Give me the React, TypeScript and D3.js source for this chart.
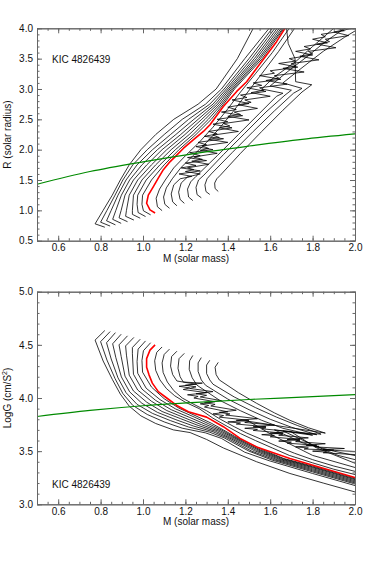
import * as d3 from "d3";
import React, { useRef, useEffect } from "react";

type Pt = [number, number];

const width = 374;
const height = 561;
const plotLeft = 37;
const plotRight = 355;
const frameColor = "#666";
const font = "Liberation Sans, Arial, sans-serif";

// tick labels
const massTicks = [0.6, 0.8, 1.0, 1.2, 1.4, 1.6, 1.8, 2.0];
const radiusTicks = [0.5, 1.0, 1.5, 2.0, 2.5, 3.0, 3.5, 4.0];
const loggTicks = [3.0, 3.5, 4.0, 4.5, 5.0];

// green constraint curve
const greenMass = [0.5, 0.75, 1.0, 1.25, 1.5, 1.75, 2.0];
const greenRadius = [1.43, 1.64, 1.8, 1.94, 2.06, 2.17, 2.26];
const greenLogg = [3.826, 3.883, 3.927, 3.959, 3.986, 4.008, 4.031];

// ---- top panel: mass vs radius ----
const radiusLeftTracks: Pt[][] = [
  [[0.82,0.722],[0.774,0.778],[0.812,1.0],[0.855,1.25],[0.893,1.5],[0.935,1.75],[0.99,2.0],[1.06,2.25],[1.145,2.5],[1.26,2.75],[1.345,3.0],[1.445,3.5],[1.52,4.0],[1.56,4.3]],
  [[0.845,0.741],[0.8,0.805],[0.83,1.0],[0.868,1.25],[0.905,1.5],[0.952,1.75],[1.02,2.0],[1.1,2.25],[1.185,2.5],[1.295,2.75],[1.37,3.0],[1.48,3.5],[1.595,4.0],[1.65,4.3]],
  [[0.87,0.761],[0.828,0.828],[0.85,1.0],[0.882,1.25],[0.92,1.5],[0.972,1.75],[1.045,2.0],[1.13,2.25],[1.215,2.5],[1.315,2.75],[1.383,3.0],[1.5,3.5],[1.61,4.0],[1.67,4.3]],
  [[0.897,0.786],[0.857,0.852],[0.872,1.0],[0.898,1.25],[0.937,1.5],[0.995,1.75],[1.068,2.0],[1.155,2.25],[1.24,2.5],[1.33,2.75],[1.393,3.0],[1.513,3.5],[1.622,4.0],[1.685,4.3]],
  [[0.927,0.813],[0.887,0.877],[0.897,1.0],[0.915,1.25],[0.955,1.5],[1.018,1.75],[1.09,2.0],[1.178,2.25],[1.26,2.5],[1.342,2.75],[1.402,3.0],[1.525,3.5],[1.633,4.0],[1.7,4.3]],
  [[0.957,0.84],[0.918,0.902],[0.922,1.0],[0.935,1.25],[0.975,1.5],[1.04,1.75],[1.112,2.0],[1.198,2.25],[1.277,2.5],[1.353,2.75],[1.41,3.0],[1.535,3.5],[1.643,4.0],[1.71,4.3]],
  [[0.987,0.87],[0.95,0.934],[0.95,1.0],[0.955,1.25],[0.995,1.5],[1.06,1.75],[1.133,2.0],[1.218,2.25],[1.293,2.5],[1.363,2.75],[1.418,3.0],[1.545,3.5],[1.652,4.0],[1.72,4.3]],
  [[1.012,0.898],[0.977,0.964],[0.972,1.1],[0.975,1.25],[1.015,1.5],[1.08,1.75],[1.153,2.0],[1.236,2.25],[1.308,2.5],[1.372,2.75],[1.425,3.0],[1.553,3.5],[1.66,4.0],[1.73,4.3]],
  [[1.036,0.926],[1.002,0.993],[0.995,1.1],[0.998,1.25],[1.04,1.5],[1.1,1.75],[1.17,2.0],[1.25,2.25],[1.322,2.5],[1.38,2.75],[1.432,3.0],[1.562,3.5],[1.665,4.0],[1.74,4.3]],
];

const radiusRedTrack: Pt[] = [
  [1.057,0.957],[1.033,1.007],[1.017,1.117],[1.025,1.25],[1.049,1.39],[1.072,1.53],[1.096,1.67],[1.127,1.8],[1.159,1.91],[1.19,2.02],[1.237,2.16],[1.285,2.3],[1.316,2.41],[1.379,2.71],[1.442,2.96],[1.489,3.12],[1.536,3.34],[1.583,3.56],[1.63,3.78],[1.67,4.0],[1.745,4.3],
];

const radiusRightTracks: Pt[][] = [
  [[1.09,0.995],[1.068,1.06],[1.062,1.2],[1.078,1.35],[1.105,1.5],[1.145,1.7],[1.2,1.9],[1.265,2.12],[1.33,2.37],[1.395,2.65],[1.46,2.95],[1.53,3.25],[1.61,3.6],[1.69,4.0],[1.75,4.3]],
  [[1.125,1.034],[1.103,1.1],[1.097,1.22],[1.11,1.37],[1.138,1.52],[1.178,1.7],[1.235,1.9],[1.3,2.12],[1.365,2.37],[1.43,2.65],[1.49,2.93],[1.56,3.25],[1.64,3.62],[1.715,4.0],[1.78,4.3]],
  [[1.16,1.075],[1.14,1.14],[1.133,1.27],[1.145,1.42],[1.175,1.52],[1.23,1.56],[1.17,1.6],[1.27,1.65],[1.18,1.7],[1.25,1.74],[1.2,1.78],[1.3,1.82],[1.21,1.87],[1.27,1.9],[1.22,1.95],[1.33,2.0],[1.25,2.05],[1.3,2.08],[1.26,2.12],[1.38,2.18],[1.29,2.22],[1.35,2.26],[1.31,2.3],[1.42,2.36],[1.33,2.42],[1.4,2.46],[1.35,2.5],[1.47,2.56],[1.37,2.62],[1.44,2.66],[1.4,2.7],[1.5,2.76],[1.42,2.82],[1.49,2.86],[1.46,2.9],[1.58,2.96],[1.49,3.02],[1.56,3.06],[1.52,3.1],[1.65,3.16],[1.55,3.22],[1.62,3.26],[1.6,3.3],[1.73,3.36],[1.64,3.42],[1.72,3.46],[1.69,3.5],[1.8,3.56],[1.72,3.62],[1.79,3.66],[1.76,3.7],[1.87,3.76],[1.8,3.82],[1.86,3.86],[1.84,3.9],[1.95,3.96],[1.9,4.02],[1.98,4.1]],
  [[1.195,1.116],[1.175,1.18],[1.168,1.3],[1.18,1.45],[1.21,1.55],[1.27,1.6],[1.2,1.64],[1.24,1.67],[1.21,1.7],[1.31,1.76],[1.23,1.81],[1.28,1.84],[1.24,1.88],[1.35,1.94],[1.27,1.99],[1.31,2.02],[1.28,2.06],[1.4,2.12],[1.31,2.17],[1.36,2.2],[1.33,2.24],[1.45,2.3],[1.36,2.36],[1.41,2.39],[1.38,2.43],[1.5,2.49],[1.4,2.55],[1.46,2.58],[1.43,2.62],[1.54,2.68],[1.45,2.74],[1.51,2.78],[1.48,2.82],[1.6,2.88],[1.51,2.94],[1.57,2.98],[1.55,3.02],[1.68,3.08],[1.58,3.14],[1.64,3.18],[1.62,3.22],[1.76,3.28],[1.66,3.34],[1.72,3.38],[1.7,3.42],[1.83,3.48],[1.74,3.54],[1.8,3.58],[1.78,3.62],[1.91,3.68],[1.82,3.74],[1.88,3.78],[1.86,3.82],[1.97,3.88],[1.9,3.94],[2.02,4.02]],
  [[1.235,1.161],[1.215,1.22],[1.21,1.35],[1.225,1.47],[1.25,1.56],[1.35,1.9],[1.45,2.25],[1.55,2.6],[1.63,2.88],[1.66,2.93],[1.56,3.0],[1.62,3.2],[1.72,3.45],[1.8,3.7],[1.9,4.0],[1.95,4.2]],
  [[1.275,1.207],[1.255,1.26],[1.25,1.38],[1.262,1.5],[1.287,1.58],[1.38,1.92],[1.48,2.27],[1.58,2.62],[1.67,2.9],[1.7,2.98],[1.6,3.05],[1.68,3.28],[1.78,3.55],[1.86,3.78],[1.96,4.02]],
  [[1.315,1.262],[1.297,1.31],[1.292,1.42],[1.302,1.52],[1.322,1.6],[1.42,1.95],[1.52,2.3],[1.62,2.64],[1.71,2.93],[1.75,3.01],[1.66,3.1],[1.75,3.35],[1.85,3.62],[1.95,3.85],[2.03,4.02]],
  [[1.355,1.311],[1.34,1.36],[1.338,1.45],[1.348,1.52],[1.365,1.58],[1.46,1.94],[1.56,2.3],[1.66,2.65],[1.75,2.95],[1.796,3.07],[1.72,3.12],[1.717,3.5],[1.685,3.75],[1.677,4.0],[1.67,4.3]],
];

// ---- bottom panel: mass vs log g ----
const loggLeftTracks: Pt[][] = [
  [[0.82,4.635],[0.774,4.545],[0.812,4.348],[0.855,4.176],[0.893,4.037],[0.935,3.923],[0.99,3.832],[1.06,3.76],[1.143,3.7],[1.222,3.675],[1.3,3.61],[1.379,3.53],[1.536,3.4],[1.693,3.29],[1.85,3.2],[2.02,3.105]],
  [[0.845,4.625],[0.8,4.53],[0.83,4.357],[0.868,4.183],[0.905,4.042],[0.952,3.93],[1.02,3.845],[1.1,3.775],[1.185,3.716],[1.295,3.672],[1.37,3.62],[1.48,3.49],[1.595,3.41],[1.8,3.29],[2.02,3.165]],
  [[0.87,4.615],[0.828,4.52],[0.85,4.367],[0.882,4.19],[0.92,4.05],[0.972,3.94],[1.045,3.855],[1.13,3.787],[1.215,3.727],[1.315,3.678],[1.383,3.625],[1.5,3.5],[1.61,3.415],[1.8,3.305],[2.02,3.18]],
  [[0.897,4.6],[0.857,4.51],[0.872,4.379],[0.898,4.198],[0.937,4.058],[0.995,3.95],[1.068,3.865],[1.155,3.796],[1.24,3.735],[1.33,3.683],[1.393,3.628],[1.513,3.5],[1.622,3.418],[1.8,3.315],[2.02,3.19]],
  [[0.927,4.585],[0.887,4.5],[0.897,4.391],[0.915,4.206],[0.955,4.066],[1.018,3.96],[1.09,3.873],[1.178,3.805],[1.26,3.742],[1.342,3.687],[1.402,3.63],[1.525,3.505],[1.633,3.42],[1.8,3.325],[2.02,3.2]],
  [[0.957,4.57],[0.918,4.49],[0.922,4.403],[0.935,4.215],[0.975,4.075],[1.04,3.969],[1.112,3.882],[1.198,3.812],[1.277,3.748],[1.353,3.691],[1.41,3.633],[1.535,3.508],[1.643,3.423],[1.8,3.335],[2.02,3.21]],
  [[0.987,4.553],[0.95,4.475],[0.95,4.416],[0.955,4.224],[0.995,4.084],[1.06,3.977],[1.133,3.89],[1.218,3.819],[1.293,3.754],[1.363,3.694],[1.418,3.636],[1.545,3.51],[1.652,3.425],[1.8,3.345],[2.02,3.22]],
  [[1.012,4.537],[0.977,4.46],[0.972,4.343],[0.975,4.233],[1.015,4.092],[1.08,3.985],[1.153,3.898],[1.236,3.826],[1.308,3.759],[1.372,3.697],[1.425,3.638],[1.553,3.512],[1.66,3.428],[1.8,3.352],[2.02,3.228]],
  [[1.036,4.52],[1.002,4.445],[0.995,4.353],[0.998,4.243],[1.04,4.103],[1.1,3.993],[1.17,3.904],[1.25,3.831],[1.322,3.763],[1.38,3.699],[1.432,3.64],[1.562,3.515],[1.665,3.43],[1.8,3.36],[2.02,3.237]],
];

const loggRedTrack: Pt[] = [
  [1.057,4.5],[1.033,4.45],[1.017,4.37],[1.017,4.29],[1.028,4.22],[1.044,4.14],[1.072,4.06],[1.112,4.0],[1.159,3.93],[1.214,3.87],[1.3,3.82],[1.379,3.73],[1.458,3.62],[1.536,3.54],[1.693,3.43],[1.85,3.34],[2.02,3.24],
];

const loggRightTracks: Pt[][] = [
  [[1.09,4.48],[1.065,4.43],[1.055,4.35],[1.06,4.26],[1.08,4.17],[1.11,4.09],[1.15,4.02],[1.2,3.96],[1.265,3.9],[1.33,3.81],[1.4,3.73],[1.46,3.665],[1.53,3.6],[1.61,3.53],[1.69,3.46],[1.8,3.39],[1.9,3.33],[2.02,3.27]],
  [[1.125,4.46],[1.1,4.41],[1.09,4.33],[1.095,4.24],[1.115,4.15],[1.145,4.07],[1.185,4.0],[1.24,3.94],[1.3,3.88],[1.365,3.8],[1.43,3.73],[1.49,3.67],[1.56,3.61],[1.64,3.54],[1.715,3.48],[1.8,3.42],[1.9,3.36],[2.02,3.3]],
  [[1.16,4.44],[1.135,4.39],[1.13,4.3],[1.14,4.22],[1.16,4.16],[1.25,4.13],[1.17,4.11],[1.22,4.095],[1.19,4.08],[1.3,4.05],[1.21,4.03],[1.26,4.015],[1.24,4.0],[1.34,3.965],[1.27,3.945],[1.31,3.93],[1.29,3.915],[1.4,3.87],[1.33,3.85],[1.38,3.835],[1.36,3.82],[1.5,3.79],[1.4,3.775],[1.46,3.765],[1.44,3.755],[1.58,3.73],[1.48,3.715],[1.54,3.705],[1.52,3.695],[1.66,3.67],[1.56,3.655],[1.62,3.645],[1.6,3.635],[1.74,3.61],[1.64,3.595],[1.7,3.585],[1.68,3.575],[1.82,3.555],[1.72,3.54],[1.78,3.53],[1.76,3.52],[1.9,3.51],[1.8,3.5],[1.87,3.49],[1.85,3.485],[1.98,3.47],[2.02,3.465]],
  [[1.195,4.42],[1.17,4.37],[1.165,4.28],[1.175,4.2],[1.19,4.15],[1.28,4.14],[1.2,4.12],[1.25,4.105],[1.22,4.09],[1.33,4.06],[1.25,4.04],[1.3,4.025],[1.27,4.01],[1.37,3.975],[1.29,3.955],[1.34,3.94],[1.32,3.925],[1.44,3.885],[1.36,3.865],[1.41,3.85],[1.39,3.84],[1.54,3.805],[1.44,3.79],[1.5,3.78],[1.48,3.77],[1.62,3.745],[1.52,3.73],[1.58,3.72],[1.56,3.71],[1.7,3.685],[1.6,3.67],[1.66,3.66],[1.64,3.65],[1.78,3.625],[1.68,3.61],[1.74,3.6],[1.72,3.59],[1.86,3.57],[1.77,3.555],[1.83,3.545],[1.81,3.54],[1.95,3.525],[1.85,3.515],[1.92,3.505],[2.02,3.495]],
  [[1.235,4.4],[1.22,4.35],[1.218,4.27],[1.232,4.19],[1.255,4.12],[1.36,3.98],[1.46,3.88],[1.56,3.79],[1.66,3.715],[1.8,3.65],[1.62,3.7],[1.75,3.58],[1.9,3.5],[2.02,3.45]],
  [[1.275,4.38],[1.26,4.33],[1.26,4.25],[1.275,4.17],[1.295,4.12],[1.4,3.99],[1.5,3.89],[1.6,3.8],[1.7,3.725],[1.82,3.655],[1.66,3.69],[1.8,3.56],[1.92,3.46],[2.02,3.41]],
  [[1.315,4.355],[1.3,4.31],[1.3,4.23],[1.315,4.17],[1.33,4.13],[1.43,4.01],[1.53,3.91],[1.63,3.82],[1.73,3.74],[1.84,3.66],[1.7,3.68],[1.82,3.53],[2.02,3.37]],
  [[1.355,4.335],[1.34,4.29],[1.345,4.22],[1.36,4.17],[1.45,4.05],[1.536,3.95],[1.62,3.86],[1.693,3.79],[1.78,3.72],[1.86,3.67],[1.5,3.78],[1.62,3.64],[1.8,3.46],[2.02,3.335]],
];

const x = d3.scaleLinear().domain([0.5, 2.0]).range([plotLeft, plotRight]);

const Panel = ({
  id, domain, top, bottom, yTicks, minorCount, title, superscript,
  labelY, leftTracks, redTrack, rightTracks, greenValues,
}) => {
  const axesRef = useRef(null);
  const y = d3.scaleLinear().domain(domain).range([bottom, top]);
  const line = d3.line<Pt>().x((d) => x(d[0])).y((d) => y(d[1]));
  const greenLine = d3
    .line<number>()
    .x((d, i) => x(greenMass[i]))
    .y((d) => y(d))
    .curve(d3.curveMonotoneX);

  useEffect(() => {
    const g = d3.select(axesRef.current);
    g.selectAll("*").remove();
    const none = () => "";
    const minorX = x.ticks(30);
    const minorY = y.ticks(minorCount);
    const fmt = d3.format(".1f");
    const parts = [
      [d3.axisBottom(x).tickValues(minorX).tickSize(-2.5).tickFormat(none), `translate(0,${bottom})`],
      [d3.axisTop(x).tickValues(minorX).tickSize(-2.5).tickFormat(none), `translate(0,${top})`],
      [d3.axisLeft(y).tickValues(minorY).tickSize(-2.5).tickFormat(none), `translate(${plotLeft},0)`],
      [d3.axisRight(y).tickValues(minorY).tickSize(-2.5).tickFormat(none), `translate(${plotRight},0)`],
      [d3.axisBottom(x).tickValues(massTicks).tickSize(-5).tickPadding(3.5).tickFormat(fmt), `translate(0,${bottom})`],
      [d3.axisTop(x).tickValues(massTicks).tickSize(-5).tickFormat(none), `translate(0,${top})`],
      [d3.axisLeft(y).tickValues(yTicks).tickSize(-5).tickPadding(4).tickFormat(fmt), `translate(${plotLeft},0)`],
      [d3.axisRight(y).tickValues(yTicks).tickSize(-5).tickFormat(none), `translate(${plotRight},0)`],
    ];
    parts.forEach(([axis, transform]) => {
      const a = g.append("g").attr("transform", transform).call(axis.tickSizeOuter(0));
      a.attr("font-family", font).attr("font-size", 10);
      a.select(".domain").attr("stroke", frameColor);
      a.selectAll(".tick line").attr("stroke", frameColor);
      a.selectAll("text").attr("fill", "#111");
    });
  }, []);

  const midY = (top + bottom) / 2;
  return (
    <g>
      <defs>
        <clipPath id={id}>
          <rect x={plotLeft} y={top} width={plotRight - plotLeft} height={bottom - top} />
        </clipPath>
      </defs>
      <g clipPath={`url(#${id})`} fill="none" strokeLinejoin="round">
        {leftTracks.concat(rightTracks).map((t, i) => (
          <path key={i} d={line(t)} stroke="#000" strokeWidth={0.8} />
        ))}
        <path d={line(redTrack)} stroke="#ff0000" strokeWidth={1.6} />
        <path d={greenLine(greenValues)} stroke="#008a00" strokeWidth={1.2} />
      </g>
      <g ref={axesRef} />
      <text x={52} y={labelY} fontFamily={font} fontSize={10} fill="#111">
        KIC 4826439
      </text>
      <text
        x={(plotLeft + plotRight) / 2}
        y={bottom + 21}
        textAnchor="middle"
        fontFamily={font}
        fontSize={10}
        fill="#111"
      >
        M (solar mass)
      </text>
      <text
        transform={`translate(10.5,${midY}) rotate(-90)`}
        textAnchor="middle"
        fontFamily={font}
        fontSize={10}
        fill="#111"
      >
        {title}
        {superscript ? (
          <>
            <tspan dy={-4} fontSize={7}>2</tspan>
            <tspan dy={4}>)</tspan>
          </>
        ) : null}
      </text>
    </g>
  );
};

export default function App() {
  return (
    <svg
      width={width}
      height={height}
      style={{ position: "absolute", left: 0, top: 0, background: "#fff" }}
    >
      <Panel
        id="clip-radius"
        domain={[0.5, 4.0]}
        top={28.3}
        bottom={240.7}
        yTicks={radiusTicks}
        minorCount={35}
        title="R (solar radius)"
        superscript={false}
        labelY={63}
        leftTracks={radiusLeftTracks}
        redTrack={radiusRedTrack}
        rightTracks={radiusRightTracks}
        greenValues={greenRadius}
      />
      <Panel
        id="clip-logg"
        domain={[3.0, 5.0]}
        top={291.7}
        bottom={504.3}
        yTicks={loggTicks}
        minorCount={20}
        title="LogG (cm/S"
        superscript={true}
        labelY={488}
        leftTracks={loggLeftTracks}
        redTrack={loggRedTrack}
        rightTracks={loggRightTracks}
        greenValues={greenLogg}
      />
    </svg>
  );
}
